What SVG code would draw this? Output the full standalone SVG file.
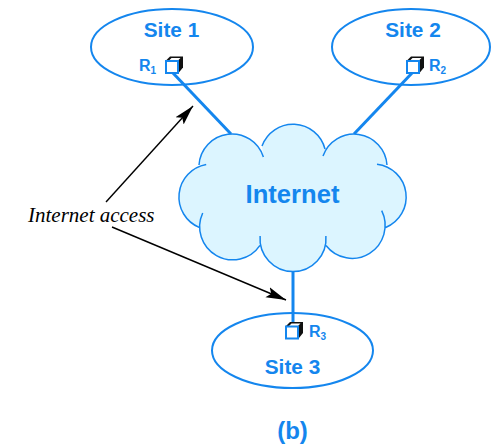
<svg xmlns="http://www.w3.org/2000/svg" width="495" height="448" viewBox="0 0 495 448">
<style>
.site{fill:#fff;stroke:#1486ee;stroke-width:2}
.lbl{font-family:"Liberation Sans",Arial,sans-serif;font-weight:bold;fill:#1486ee}
.link{stroke:#1486ee;stroke-width:3;fill:none}
.arr{stroke:#000;stroke-width:1.4;fill:none;marker-end:url(#ah)}
.front{fill:#fff;stroke:#1486ee;stroke-width:2}
</style>
<defs>
<marker id="ah" markerUnits="userSpaceOnUse" markerWidth="22" markerHeight="14" refX="20" refY="7" orient="auto">
<path d="M0 1.500 L20 7 L0 12.500 L4 7Z" fill="#000"/>
</marker>
<g id="cube"><path d="M0 4 L4 0 L17 0 L17 11 L12.500 16.500 L0 16.500Z" fill="#111"/><path d="M3 4 L5.500 1.500 L14.500 1.500 L12 4Z" fill="#fff"/><rect class="front" x="0" y="4.500" width="12" height="12"/></g>
</defs>
<g id="site1"><ellipse class="site" cx="172" cy="47" rx="81" ry="38"/><text class="lbl" x="171.500" y="37" font-size="20.800" text-anchor="middle">Site 1</text><text class="lbl" x="139" y="70.500" font-size="16">R<tspan font-size="10" dy="3">1</tspan></text></g>
<g id="site2"><ellipse class="site" cx="411" cy="47" rx="79" ry="38"/><text class="lbl" x="413" y="37" font-size="20.800" text-anchor="middle">Site 2</text><text class="lbl" x="429" y="70.500" font-size="16">R<tspan font-size="10" dy="3">2</tspan></text></g>
<g id="site3"><ellipse class="site" cx="292.500" cy="350.500" rx="80.500" ry="37.500"/><text class="lbl" x="292.500" y="374" font-size="20.800" text-anchor="middle">Site 3</text><text class="lbl" x="309" y="336.500" font-size="16">R<tspan font-size="10" dy="3">3</tspan></text></g>
<g id="connectors">
<path class="link" d="M172 72 L231 134"/>
<path class="link" d="M413 72 L354 134"/>
<path class="link" d="M293 271 L293 322"/>
<path class="arr" d="M106 202 L193 106"/>
<path class="arr" d="M112 227 L286 300"/>
</g>
<g id="r1"><use href="#cube" transform="translate(166 56.500)"/></g>
<g id="r2"><use href="#cube" transform="translate(407 56.500)"/></g>
<g id="r3"><use href="#cube" transform="translate(286 322)"/></g>
<g id="internet">
<path fill="#dcf5ff" d="M199 165 A33 33 0 0 1 263.400 157 L262 146 A33 33 0 0 1 325 149 L323 156 A33 33 0 0 1 387 165 L377 164.200 A33 33 0 0 1 385.700 227.500 L381.700 210.700 A33 33 0 0 1 326 245.500 L325.900 236 A33 33 0 1 1 260.100 236 L260 245.300 A33 33 0 0 1 202.700 213 L199.600 227.600 A33 33 0 0 1 206.200 164.500Z"/>
<path fill="none" stroke="#1486ee" stroke-width="1.500" d="M199 165 A33 33 0 0 1 263.400 157 M262 146 A33 33 0 0 1 325 149 M323 156 A33 33 0 0 1 387 165 M377 164.200 A33 33 0 0 1 385.700 227.500 M381.700 210.700 A33 33 0 0 1 326 245.500 M325.900 236 A33 33 0 1 1 260.100 236 M260 245.300 A33 33 0 0 1 202.700 213 M199.600 227.600 A33 33 0 0 1 206.200 164.500"/>
<text class="lbl" x="292.500" y="203" font-size="25.600" text-anchor="middle">Internet</text>
</g>
<text id="access" x="28" y="222" font-family="'Liberation Serif','Times New Roman',serif" font-style="italic" font-size="21">Internet access</text>
<text id="caption" class="lbl" x="292.500" y="439" font-size="24" text-anchor="middle">(b)</text>
</svg>
